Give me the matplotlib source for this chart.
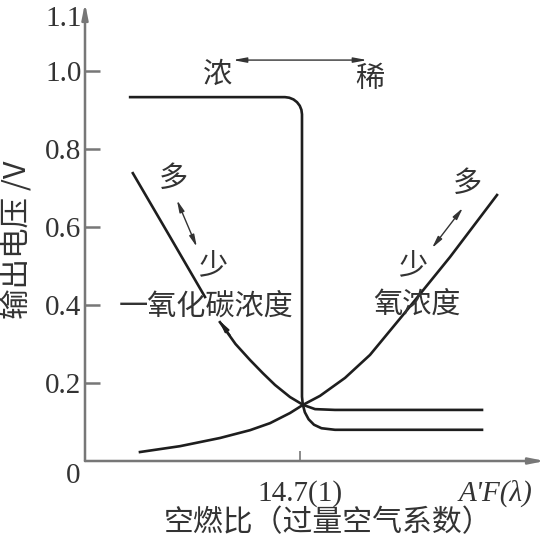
"""Oxygen sensor output vs air-fuel ratio (rich / lean)."""

import matplotlib
matplotlib.use("Agg")

import matplotlib.pyplot as plt

# x: excess-air ratio lambda (14.7 A/F -> 1.0), y: output voltage in V
sensor_lam = [0.684, 0.972, 0.980, 0.9879, 0.9944, 0.9995, 1.0026, 1.0037, 1.0037,
              1.0052, 1.0090, 1.0160, 1.0260, 1.0400, 1.0651, 1.3386]
sensor_v = [0.933, 0.933, 0.9315, 0.9271, 0.9201, 0.911, 0.9004, 0.889, 0.165,
            0.145, 0.125, 0.107, 0.093, 0.084, 0.080, 0.080]

co_upper_lam = [0.689, 0.756, 0.8233]
co_upper_v = [0.738, 0.580, 0.4205]
co_lower_lam = [0.851, 0.880, 0.907, 0.931, 0.9535, 0.9814, 1.0056, 1.028, 1.065, 1.3386]
co_lower_v = [0.356, 0.300, 0.259, 0.225, 0.195, 0.164, 0.144, 0.133, 0.131, 0.131]

o2_lam = [0.7023, 0.7767, 0.8512, 0.9070, 0.9442, 0.9814, 1.0056, 1.0372, 1.0837,
          1.1302, 1.1991, 1.2791, 1.3665]
o2_v = [0.023, 0.038, 0.059, 0.079, 0.097, 0.123, 0.144, 0.167, 0.213,
        0.272, 0.387, 0.523, 0.682]

y_ticks = [0.2, 0.4, 0.6, 0.8, 1.0]
y_tick_labels = ["0.2", "0.4", "0.6", "0.8", "1.0"]
x_ticks = [1.0]
x_tick_labels = ["14.7(1)"]

plt.rcParams["font.family"] = ["Noto Sans CJK SC", "DejaVu Sans"]
SERIF = ["Liberation Serif", "DejaVu Serif"]
INK = "#1e1e1e"
TXT = "#333333"
AXC = "#777777"

W, H = 549, 540
fig = plt.figure(figsize=(W / 100, H / 100), dpi=100)
ax = fig.add_axes([85 / W, (H - 461) / H, (545 - 85) / W, (461 - 3) / H])
ax.set_xlim(0.6, 1.4558)
ax.set_ylim(0, 458 / 390)
for s in ax.spines.values():
    s.set_visible(False)

# axes drawn as arrows
arr = dict(arrowstyle="-|>,head_length=0.9,head_width=0.18", color=AXC, lw=1.8,
           shrinkA=0, shrinkB=0)
ax.annotate("", xy=(0, 1), xytext=(0, 0), xycoords="axes fraction", arrowprops=arr)
ax.annotate("", xy=(1, 0), xytext=(0, 0), xycoords="axes fraction", arrowprops=arr)

ax.set_yticks(y_ticks, y_tick_labels)
ax.set_xticks(x_ticks, x_tick_labels)
ax.tick_params(axis="y", direction="in", length=11, width=1.8, color=AXC, pad=2.5,
               labelsize=21, labelcolor=TXT)
ax.tick_params(axis="x", direction="in", length=7, width=1.2, color=AXC, pad=14,
               labelsize=21, labelcolor=TXT)
for lab in ax.get_xticklabels() + ax.get_yticklabels():
    lab.set_family(SERIF)

ax.text(-0.006, 1.133, "1.1", transform=ax.get_yaxis_transform(), ha="right",
        va="center", fontsize=21, color=TXT, family=SERIF)
fig.text(73 / W, 1 - 476 / H, "0", ha="center", va="center", fontsize=21,
         color=TXT, family=SERIF)
ax.text(1.3646, -0.082, "A'F(λ)", ha="center", va="center", fontsize=21,
        color=TXT, family=SERIF, style="italic", clip_on=False)

# curves
lw = 1.9
ax.plot(sensor_lam, sensor_v, color=INK, lw=lw, solid_joinstyle="round")
ax.plot(co_upper_lam, co_upper_v, color=INK, lw=lw)
ax.plot(co_lower_lam, co_lower_v, color=INK, lw=lw)
ax.plot(o2_lam, o2_v, color=INK, lw=lw)

# annotations
cjk = dict(fontsize=21, color=TXT, ha="center", va="center")
ax.text(0.8456, 0.990, "浓", **cjk)
ax.text(1.130, 0.979, "稀", **cjk)
ax.annotate("", xy=(0.875, 1.028), xytext=(1.125, 1.028),
            arrowprops=dict(arrowstyle="<|-|>,head_length=0.8,head_width=0.15",
                            color=TXT, lw=1.0, shrinkA=0, shrinkB=0))

ax.text(0.7637, 0.723, "多", **cjk)
ax.text(0.838, 0.503, "少", **cjk)
ax.annotate("", xy=(0.771, 0.669), xytext=(0.808, 0.549),
            arrowprops=dict(arrowstyle="<|-|>,head_length=0.7,head_width=0.15",
                            color=TXT, lw=1.0, shrinkA=0, shrinkB=0))
ax.text(0.825, 0.395, "一氧化碳浓度", **cjk)
ax.annotate("", xy=(0.8493, 0.361), xytext=(0.870, 0.322),
            arrowprops=dict(arrowstyle="-|>,head_length=0.7,head_width=0.15",
                            color=INK, lw=1.2, shrinkA=0, shrinkB=0))

ax.text(1.311, 0.710, "多", **cjk)
ax.text(1.210, 0.503, "少", **cjk)
ax.annotate("", xy=(1.303, 0.649), xytext=(1.2456, 0.546),
            arrowprops=dict(arrowstyle="<|-|>,head_length=0.7,head_width=0.15",
                            color=TXT, lw=1.0, shrinkA=0, shrinkB=0))
ax.text(1.2177, 0.400, "氧浓度", **cjk)

fig.text(328 / W, 1 - 523 / H, "空燃比（过量空气系数）", ha="center", va="center",
         fontsize=21.5, color=TXT)
fig.text(18 / W, 1 - 240 / H, "输出电压 /V", ha="center", va="center",
         rotation=90, fontsize=22, color=TXT)

fig.savefig("out.png", dpi=100)
plt.close(fig)
